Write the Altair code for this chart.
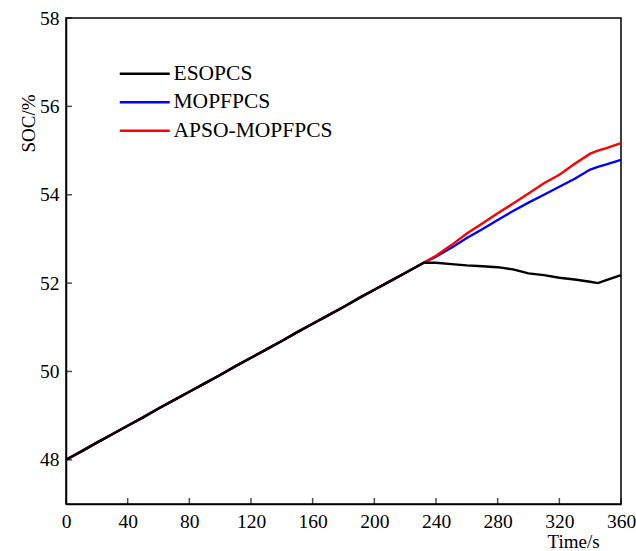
import altair as alt
import pandas as pd

# ---- data ----
time_common = [0, 10, 20, 30, 40, 50, 60, 70, 80, 90, 100, 110, 120, 130, 140,
               150, 160, 170, 180, 190, 200, 210, 220, 230, 232]
soc_common = [48.00, 48.19, 48.39, 48.58, 48.77, 48.96, 49.16, 49.35, 49.54,
              49.73, 49.92, 50.12, 50.31, 50.50, 50.69, 50.89, 51.08, 51.27,
              51.46, 51.66, 51.85, 52.04, 52.23, 52.42, 52.46]

time_tail = [240, 250, 260, 270, 280, 290, 300, 310, 320, 330, 340, 345, 350, 360]
esopcs_tail = [52.46, 52.43, 52.40, 52.38, 52.36, 52.31, 52.22, 52.18, 52.12,
               52.08, 52.03, 52.00, 52.06, 52.18]
mopfpcs_tail = [52.60, 52.80, 53.02, 53.22, 53.43, 53.63, 53.82, 54.00, 54.18,
                54.36, 54.57, 54.63, 54.68, 54.79]
apso_tail = [52.62, 52.86, 53.12, 53.35, 53.58, 53.80, 54.03, 54.26, 54.45,
             54.70, 54.93, 55.00, 55.05, 55.17]

series_names = ["ESOPCS", "MOPFPCS", "APSO-MOPFPCS"]
series_colors = ["#000000", "#0000FF", "#FF0000"]

x_ticks = [0, 40, 80, 120, 160, 200, 240, 280, 320, 360]
y_ticks = [48, 50, 52, 54, 56, 58]

rows = []
for name, tail in zip(series_names, [esopcs_tail, mopfpcs_tail, apso_tail]):
    for t, v in zip(time_common + time_tail, soc_common + tail):
        rows.append({"Time": t, "SOC": v, "Series": name})
df = pd.DataFrame(rows)

xt_df = pd.DataFrame({"Time": x_ticks})
yt_df = pd.DataFrame({"SOC": y_ticks})

W, H = 555, 486
FONT = "Liberation Serif"

x_scale = alt.Scale(domain=[0, 360], nice=False)
y_scale = alt.Scale(domain=[47, 58], nice=False)

x_axis = alt.Axis(values=x_ticks, title="Time/s", ticks=False, tickSize=0,
                  labelPadding=8, grid=False, labelFlush=False,
                  titleX=507, titleY=37,
                  titleBaseline="middle", titleAlign="center")
y_axis = alt.Axis(values=y_ticks, title="SOC/%", ticks=False, tickSize=0,
                  labelPadding=7, grid=False, labelFlush=False,
                  titleX=-38, titleY=105,
                  titleAngle=-90, titleBaseline="middle", titleAlign="center")

color = alt.Color("Series:N",
                  scale=alt.Scale(domain=series_names, range=series_colors),
                  sort=series_names,
                  legend=alt.Legend(title=None, orient="none", legendX=68,
                                    legendY=45, symbolType="M-5,0H5",
                                    symbolSize=100, symbolStrokeWidth=2.5,
                                    labelOffset=18, rowPadding=5.5, padding=0,
                                    labelFont=FONT, labelFontSize=21.5,
                                    labelColor="black", labelLimit=300))


def series_layer(name):
    return alt.Chart(df).transform_filter(
        alt.datum.Series == name
    ).mark_line(strokeWidth=2.4).encode(
        x=alt.X("Time:Q", scale=x_scale, axis=x_axis),
        y=alt.Y("SOC:Q", scale=y_scale, axis=y_axis),
        color=color,
        order=alt.Order("Time:Q"),
    )


xticks_layer = alt.Chart(xt_df).mark_tick(
    orient="vertical", size=6, thickness=1.5, color="black"
).encode(
    x=alt.X("Time:Q", scale=x_scale, axis=x_axis),
    y=alt.value(H - 3),
)

yticks_layer = alt.Chart(yt_df).mark_tick(
    orient="horizontal", size=6, thickness=1.5, color="black"
).encode(
    y=alt.Y("SOC:Q", scale=y_scale, axis=y_axis),
    x=alt.value(3),
)

chart = alt.layer(
    series_layer("MOPFPCS"),
    series_layer("APSO-MOPFPCS"),
    series_layer("ESOPCS"),
    xticks_layer,
    yticks_layer,
).properties(
    width=W, height=H,
    autosize=alt.AutoSizeParams(type="none"),
    padding={"left": 66, "top": 18, "right": 15, "bottom": 47},
    background="white",
).configure_view(
    stroke="black", strokeWidth=1.5
).configure_axis(
    labelFont=FONT, labelFontSize=19.5, labelColor="black",
    titleFont=FONT, titleFontSize=19, titleColor="black", titleFontWeight="normal",
    domainColor="black", domainWidth=1.5,
)

chart.save("out.html", embed_options={"renderer": "svg", "actions": False})
